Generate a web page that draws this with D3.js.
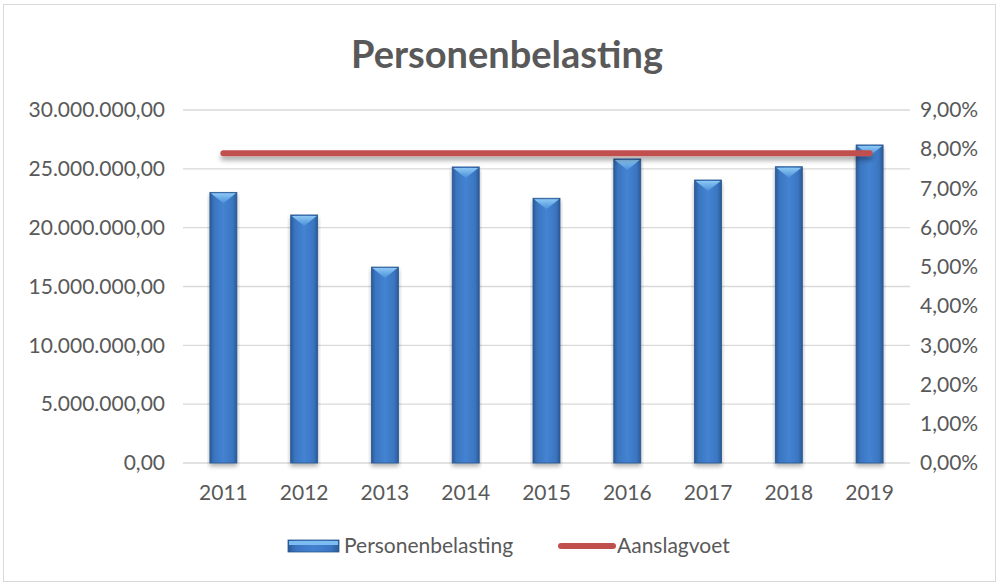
<!DOCTYPE html>
<html lang="nl">
<head>
<meta charset="UTF-8"/>
<title>Personenbelasting</title>
<script src="https://d3js.org/d3.v7.min.js"></script>
<style>
    body { margin: 0; background: #fff; }
    text { font-family: Lato, "Open Sans", sans-serif; fill: #595959; }
</style>
</head>
<body>
<div id="chart"></div>
<script>
    // data
    const years = ["2011", "2012", "2013", "2014", "2015", "2016", "2017", "2018", "2019"];
    const belasting = [23000000, 21080000, 16650000, 25160000, 22500000, 25840000, 24050000, 25180000, 27030000];
    const aanslagvoet = [0.079, 0.079, 0.079, 0.079, 0.079, 0.079, 0.079, 0.079, 0.079];
    const leftTicks = [0, 5000000, 10000000, 15000000, 20000000, 25000000, 30000000];
    const rightTicks = [0, 0.01, 0.02, 0.03, 0.04, 0.05, 0.06, 0.07, 0.08, 0.09];

    const W = 997, H = 583;
    const margin = {top: 110, right: 87, bottom: 120, left: 183};
    const width = W - margin.left - margin.right;
    const height = H - margin.top - margin.bottom;

    const nl = d3.formatLocale({decimal: ",", thousands: ".", grouping: [3], currency: ["€", ""]});
    const fmtNum = nl.format(",.2f");
    const fmtPct = nl.format(".2%");

    const svg = d3.select("#chart").append("svg")
        .attr("width", W).attr("height", H);

    const defs = svg.append("defs");
    const grad = defs.append("linearGradient").attr("id", "barGrad")
        .attr("x1", "0").attr("x2", "1").attr("y1", "0").attr("y2", "0");
    grad.append("stop").attr("offset", "0").attr("stop-color", "#2b5a96");
    grad.append("stop").attr("offset", "0.15").attr("stop-color", "#3a75c0");
    grad.append("stop").attr("offset", "0.5").attr("stop-color", "#4483d2");
    grad.append("stop").attr("offset", "0.85").attr("stop-color", "#3a75c0");
    grad.append("stop").attr("offset", "1").attr("stop-color", "#2b5a96");
    const capGrad = defs.append("linearGradient").attr("id", "capGrad")
        .attr("x1", "0").attr("x2", "0").attr("y1", "0").attr("y2", "1");
    capGrad.append("stop").attr("offset", "0").attr("stop-color", "#8cc8f5");
    capGrad.append("stop").attr("offset", "1").attr("stop-color", "#4a8ed8");
    const shadow = defs.append("filter").attr("id", "shadow")
        .attr("x", "-10%").attr("y", "-50%").attr("width", "120%").attr("height", "300%");
    shadow.append("feDropShadow").attr("dx", 0).attr("dy", 3).attr("stdDeviation", 2)
        .attr("flood-color", "#000").attr("flood-opacity", 0.3);
    // flat line has a zero-height box, so give its shadow a fixed region
    const lineShadow = defs.append("filter").attr("id", "lineShadow")
        .attr("filterUnits", "userSpaceOnUse")
        .attr("x", 0).attr("y", 0).attr("width", W).attr("height", H);
    lineShadow.append("feDropShadow").attr("dx", 0).attr("dy", 4).attr("stdDeviation", 2.5)
        .attr("flood-color", "#000").attr("flood-opacity", 0.35);

    // chart border
    svg.append("rect").attr("x", 3.5).attr("y", 4.5).attr("width", W - 5).attr("height", H - 6)
        .attr("fill", "none").attr("stroke", "#d9d9d9");

    svg.append("text").attr("x", 507).attr("y", 68).attr("text-anchor", "middle")
        .style("font-size", "38px").style("font-weight", "bold").text("Personenbelasting");

    const g = svg.append("g").attr("transform", "translate(" + margin.left + "," + margin.top + ")");

    const x = d3.scaleBand().domain(years).range([0, width]);
    const y = d3.scaleLinear().domain([0, 30000000]).range([height, 0]);
    const y2 = d3.scaleLinear().domain([0, 0.09]).range([height, 0]);

    // gridlines
    g.selectAll(".grid").data(leftTicks).join("line")
        .attr("x1", 0).attr("x2", width)
        .attr("y1", d => y(d)).attr("y2", d => y(d))
        .attr("stroke", "#d9d9d9").attr("stroke-width", 1.3);

    // axes
    const yAxis = g.append("g").call(d3.axisLeft(y).tickValues(leftTicks).tickFormat(fmtNum).tickSize(0).tickPadding(18));
    yAxis.select(".domain").remove();
    yAxis.selectAll("text").style("font-size", "21px").attr("fill", "#595959");

    const y2Axis = g.append("g").attr("transform", "translate(" + width + ",0)")
        .call(d3.axisRight(y2).tickValues(rightTicks).tickFormat(fmtPct).tickSize(0).tickPadding(10));
    y2Axis.select(".domain").remove();
    y2Axis.selectAll("text").style("font-size", "21px").attr("fill", "#595959");

    const xAxis = g.append("g").attr("transform", "translate(0," + height + ")")
        .call(d3.axisBottom(x).tickSize(0).tickPadding(22));
    xAxis.select(".domain").remove();
    xAxis.selectAll("text").style("font-size", "21px").attr("fill", "#595959");

    // bars
    const barW = 27;
    const bars = g.selectAll(".bar").data(years).join("g").attr("class", "bar")
        .attr("filter", "url(#shadow)");
    bars.append("rect")
        .attr("x", d => x(d) + x.bandwidth() / 2 - barW / 2)
        .attr("y", (d, i) => y(belasting[i]))
        .attr("width", barW)
        .attr("height", (d, i) => height - y(belasting[i]))
        .attr("fill", "url(#barGrad)")
        .attr("stroke", "#2a578f").attr("stroke-width", 0.8);
    bars.append("path")
        .attr("d", (d, i) => {
            const cx = x(d) + x.bandwidth() / 2, top = y(belasting[i]);
            return "M" + (cx - barW / 2 + 1) + "," + (top + 1) + "L" + (cx + barW / 2 - 1) + "," + (top + 1) +
                "L" + cx + "," + (top + 11) + "Z";
        })
        .attr("fill", "url(#capGrad)");

    // rate line
    g.append("path").datum(aanslagvoet)
        .attr("fill", "none").attr("stroke", "#c0504d").attr("stroke-width", 6)
        .attr("stroke-linecap", "round").attr("filter", "url(#lineShadow)")
        .attr("d", d3.line().x((d, i) => x(years[i]) + x.bandwidth() / 2).y(d => y2(d)));

    // legend
    const leg = svg.append("g").attr("transform", "translate(0,546)");
    leg.append("rect").attr("x", 288).attr("y", -6).attr("width", 51).attr("height", 12)
        .attr("fill", "url(#barGrad)").attr("stroke", "#2a578f").attr("stroke-width", 0.8);
    leg.append("rect").attr("x", 289).attr("y", -5).attr("width", 49).attr("height", 4).attr("fill", "#7dbcf0");
    leg.append("text").attr("x", 344).attr("y", 0).attr("dy", "0.35em").style("font-size", "21px").text("Personenbelasting");
    leg.append("line").attr("x1", 561).attr("x2", 613).attr("y1", 0).attr("y2", 0)
        .attr("stroke", "#c0504d").attr("stroke-width", 6).attr("stroke-linecap", "round");
    leg.append("text").attr("x", 617).attr("y", 0).attr("dy", "0.35em").style("font-size", "21px").text("Aanslagvoet");
</script>
</body>
</html>
